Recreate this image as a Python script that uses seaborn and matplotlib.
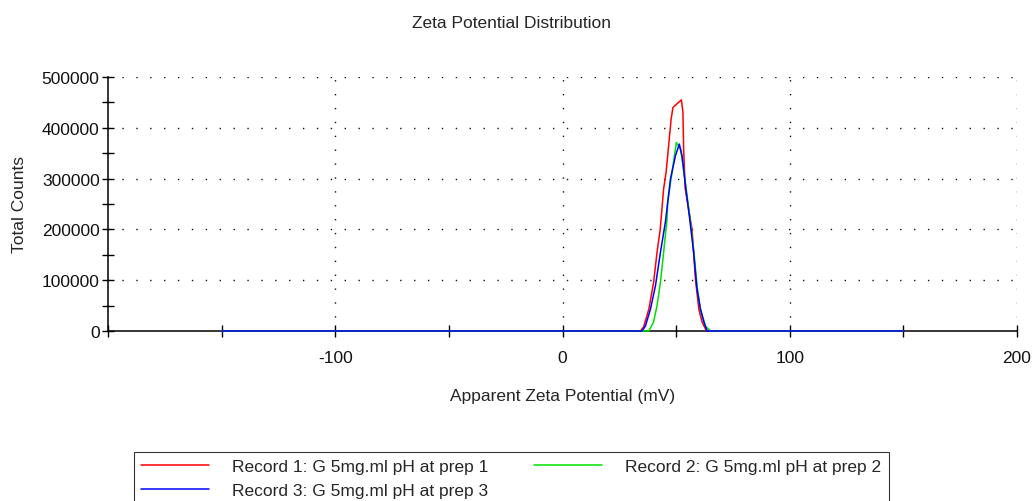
import numpy as np
import pandas as pd
import matplotlib
matplotlib.use("Agg")
import matplotlib.pyplot as plt
from matplotlib.ticker import MultipleLocator, FixedLocator
import seaborn as sns

# Zeta potential distributions (mV vs total counts) for three runs
rec1_mv = [-150, 34.3, 35.7, 38.0, 40.1, 41.6, 43.0, 44.5, 45.6, 47.8, 48.6, 52.3, 53.0, 53.3, 54.0, 55.5, 57.0, 58.5, 60.0, 61.4, 62.9, 64.0, 150]
rec1_counts = [0, 0, 8000, 43000, 96000, 155000, 200000, 280000, 313000, 417000, 440000, 455000, 431000, 358000, 280000, 240000, 200000, 102000, 43000, 18000, 4000, 0, 0]

rec2_mv = [-150, 38.0, 40.1, 41.6, 43.1, 44.5, 46.0, 46.3, 48.6, 50.1, 51.9, 53.3, 56.3, 57.7, 59.2, 60.7, 62.9, 65.0, 150]
rec2_counts = [0, 0, 18000, 50000, 96000, 155000, 220000, 254000, 325000, 371000, 358000, 319000, 215000, 161000, 89000, 43000, 10000, 0, 0]

rec3_mv = [-150, 35.0, 36.5, 38.7, 40.9, 43.1, 45.3, 47.5, 49.7, 51.4, 52.6, 54.1, 56.0, 57.7, 59.2, 60.7, 62.2, 63.6, 150]
rec3_counts = [0, 0, 10000, 43000, 89000, 155000, 215000, 299000, 345000, 368000, 345000, 286000, 220000, 155000, 82000, 43000, 18000, 0, 0]

labels = ["Record 1: G 5mg.ml pH at prep 1",
          "Record 2: G 5mg.ml pH at prep 2",
          "Record 3: G 5mg.ml pH at prep 3"]
colors = ["#ff0000", "#00e000", "#0000ff"]

x_major = [-100, 0, 100, 200]
y_major = [0, 100000, 200000, 300000, 400000, 500000]

frames = []
for lab, xs, ys in zip(labels, [rec1_mv, rec2_mv, rec3_mv],
                       [rec1_counts, rec2_counts, rec3_counts]):
    frames.append(pd.DataFrame({"mv": xs, "counts": ys, "record": lab}))
df = pd.concat(frames, ignore_index=True)

sns.set_style("white")
plt.rcParams["font.family"] = ["Liberation Sans", "DejaVu Sans"]

FS = 12.5

fig = plt.figure(figsize=(10.33, 5.02), dpi=100)
ax = fig.add_axes([108 / 1033, 1 - 332 / 502, (1017 - 108) / 1033, (332 - 78) / 502])

sns.lineplot(data=df, x="mv", y="counts", hue="record",
             palette=dict(zip(labels, colors)), estimator=None, sort=False,
             linewidth=1.1, ax=ax, legend=False, clip_on=False, zorder=3)

ax.set_xlim(-200, 200)
ax.set_ylim(0, 500000)

ax.xaxis.set_major_locator(FixedLocator(x_major))
ax.xaxis.set_minor_locator(MultipleLocator(50))
ax.yaxis.set_major_locator(FixedLocator(y_major))
ax.yaxis.set_minor_locator(MultipleLocator(50000))
ax.set_xticklabels([str(v) for v in x_major])
ax.set_yticklabels([str(v) for v in y_major])

ax.tick_params(axis="both", which="both", direction="inout", color="black",
               width=1.0, labelsize=FS, labelcolor="#111111",
               bottom=True, left=True, top=False, right=False)
ax.tick_params(axis="both", which="both", length=8)
ax.tick_params(axis="x", which="major", pad=10)
ax.tick_params(axis="y", which="major", pad=2)

# dotted grid at major ticks
for xv in x_major:
    ax.axvline(xv, color="#111111", lw=1.0, ls=(0, (1.0, 9)), zorder=1)
for yv in y_major[1:]:
    ax.axhline(yv, color="#111111", lw=1.0, ls=(0, (1.0, 9)), zorder=1)

for side in ["top", "right"]:
    ax.spines[side].set_visible(False)
for side in ["left", "bottom"]:
    ax.spines[side].set_color("black")
    ax.spines[side].set_linewidth(1.1)

ax.set_xlabel("Apparent Zeta Potential (mV)", fontsize=FS, labelpad=16)
ax.set_ylabel("Total Counts", fontsize=FS, labelpad=11)
fig.text(512 / 1033, 1 - 23 / 502, "Zeta Potential Distribution",
         ha="center", va="center", fontsize=FS)

handles = [plt.Line2D([], [], color=c, lw=1.1) for c in colors]
order = [0, 2, 1]
leg = fig.legend([handles[i] for i in order], [labels[i] for i in order],
                 ncol=2, loc="upper left",
                 bbox_to_anchor=(134 / 1033, 1 - 453 / 502),
                 frameon=True, fancybox=False, edgecolor="black",
                 fontsize=FS, handlelength=3.9, handletextpad=1.35,
                 columnspacing=2.6, borderpad=0.42, labelspacing=0.47,
                 borderaxespad=0)
leg.get_frame().set_linewidth(0.8)

fig.savefig("out.png", dpi=100, facecolor="white")
